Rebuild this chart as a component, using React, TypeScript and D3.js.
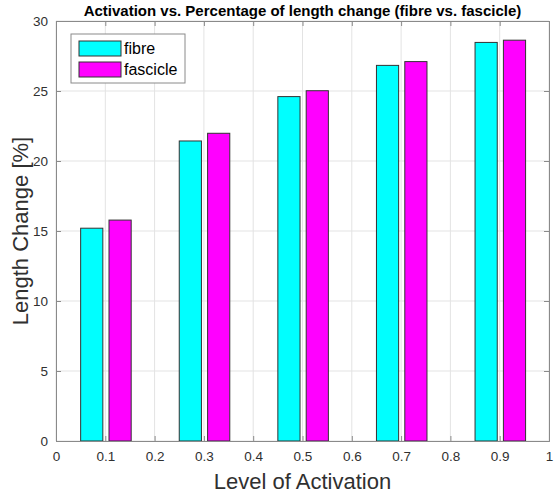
import React, { useEffect, useRef } from 'react';
import * as d3 from 'd3';

const levels = [0.1, 0.3, 0.5, 0.7, 0.9];
const fibre = [15.2, 21.43, 24.6, 26.83, 28.47];
const fascicle = [15.78, 21.98, 25.02, 27.1, 28.63];
const xTicks = [0, 0.1, 0.2, 0.3, 0.4, 0.5, 0.6, 0.7, 0.8, 0.9, 1];
const yTicks = [0, 5, 10, 15, 20, 25, 30];

const series = [
  { name: 'fibre', values: fibre, color: '#00ffff', offset: -0.0275 },
  { name: 'fascicle', values: fascicle, color: '#ff00ff', offset: 0.03 },
];

const FONT = '"Liberation Sans", Arial, sans-serif';

const App: React.FC = () => {
  const ref = useRef<SVGSVGElement>(null);

  useEffect(() => {
    if (!ref.current) return;
    const W = 554;
    const H = 498;
    const margin = { top: 21, left: 56, right: 5, bottom: 57 };
    const width = W - margin.left - margin.right;
    const height = H - margin.top - margin.bottom;
    const barW = 0.045;

    const root = d3.select(ref.current);
    root.selectAll('*').remove();
    root.append('rect').attr('width', W).attr('height', H).attr('fill', '#fff');

    const svg = root.append('g').attr('transform', `translate(${margin.left}, ${margin.top})`);

    const x = d3.scaleLinear().domain([0, 1]).range([0, width]);
    const y = d3.scaleLinear().domain([0, 30]).range([height, 0]);

    // grid
    svg
      .append('g')
      .selectAll('line')
      .data(xTicks)
      .enter()
      .append('line')
      .attr('x1', (d) => x(d))
      .attr('x2', (d) => x(d))
      .attr('y1', 0)
      .attr('y2', height)
      .attr('stroke', '#e3e3e3')
      .attr('stroke-width', 1);
    svg
      .append('g')
      .selectAll('line')
      .data(yTicks)
      .enter()
      .append('line')
      .attr('x1', 0)
      .attr('x2', width)
      .attr('y1', (d) => y(d))
      .attr('y2', (d) => y(d))
      .attr('stroke', '#e3e3e3')
      .attr('stroke-width', 1);

    // bars
    series.forEach((s) => {
      svg
        .append('g')
        .selectAll('rect')
        .data(levels)
        .enter()
        .append('rect')
        .attr('x', (d) => x(d + s.offset - barW / 2))
        .attr('width', x(barW) - x(0))
        .attr('y', (d, i) => y(s.values[i]))
        .attr('height', (d, i) => y(0) - y(s.values[i]))
        .attr('fill', s.color)
        .attr('stroke', '#333')
        .attr('stroke-width', 1);
    });

    // axes
    const axisColor = '#8a8a8a';
    const tickLen = 5;
    const xAxisB = svg
      .append('g')
      .attr('transform', `translate(0, ${height})`)
      .call(d3.axisBottom(x).tickValues(xTicks).tickSize(-tickLen).tickPadding(10).tickFormat(d3.format('')));
    const xAxisT = svg
      .append('g')
      .call(d3.axisTop(x).tickValues(xTicks).tickSize(-tickLen).tickFormat(() => ''));
    const yAxisL = svg
      .append('g')
      .call(d3.axisLeft(y).tickValues(yTicks).tickSize(-tickLen).tickPadding(8));
    const yAxisR = svg
      .append('g')
      .attr('transform', `translate(${width}, 0)`)
      .call(d3.axisRight(y).tickValues(yTicks).tickSize(-tickLen).tickFormat(() => ''));

    [xAxisB, xAxisT, yAxisL, yAxisR].forEach((a) => {
      a.selectAll('.domain').attr('stroke', axisColor);
      a.selectAll('.tick line').attr('stroke', axisColor);
      a.selectAll('text')
        .attr('fill', '#303030')
        .style('font-family', FONT)
        .style('font-size', '13.5px');
    });

    // title
    root
      .append('text')
      .attr('x', margin.left + width / 2)
      .attr('y', 16)
      .attr('text-anchor', 'middle')
      .style('font-family', FONT)
      .style('font-size', '15px')
      .style('font-weight', 'bold')
      .attr('fill', '#000')
      .text('Activation vs. Percentage of length change (fibre vs. fascicle)');

    // axis labels
    root
      .append('text')
      .attr('x', margin.left + width / 2)
      .attr('y', 489)
      .attr('text-anchor', 'middle')
      .style('font-family', FONT)
      .style('font-size', '22px')
      .attr('fill', '#303030')
      .text('Level of Activation');
    root
      .append('text')
      .attr('transform', `translate(28, ${margin.top + height / 2}) rotate(-90)`)
      .attr('text-anchor', 'middle')
      .style('font-family', FONT)
      .style('font-size', '22px')
      .attr('fill', '#303030')
      .text('Length Change [%]');

    // legend
    const lg = root.append('g').attr('transform', 'translate(71, 34)');
    lg.append('rect')
      .attr('width', 114)
      .attr('height', 49)
      .attr('fill', '#fff')
      .attr('stroke', '#8a8a8a')
      .attr('stroke-width', 1);
    series.forEach((s, i) => {
      lg.append('rect')
        .attr('x', 8)
        .attr('y', 7 + i * 21)
        .attr('width', 42)
        .attr('height', 15)
        .attr('fill', s.color)
        .attr('stroke', '#333');
      lg.append('text')
        .attr('x', 53)
        .attr('y', 20 + i * 21)
        .style('font-family', FONT)
        .style('font-size', '16px')
        .attr('fill', '#000')
        .text(s.name);
    });
  }, []);

  return <svg ref={ref} width={554} height={498} style={{ position: 'absolute', left: 0, top: 0 }} />;
};

export default App;
